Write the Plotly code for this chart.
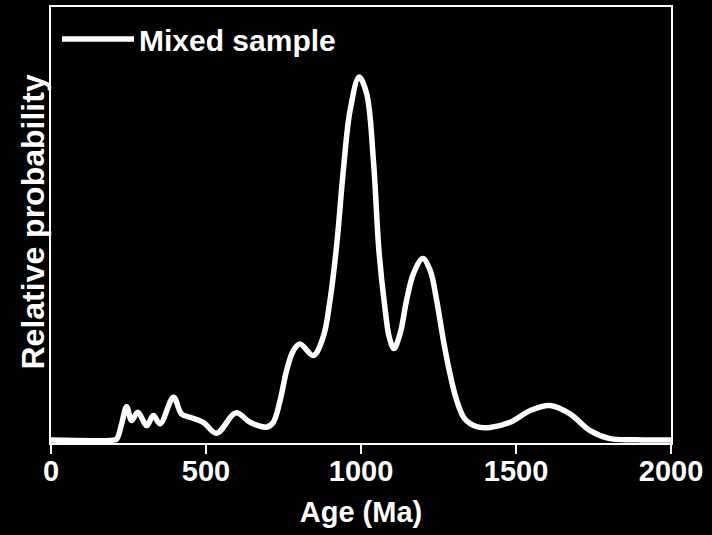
import plotly.graph_objects as go

age_ma = [0, 200, 212, 228, 244, 260, 280, 309, 330, 352, 395, 421, 448, 491, 534, 597, 642,
          696, 717, 739, 760, 782, 803, 846, 878, 900, 922, 943, 965, 994, 1018, 1040, 1058,
          1077, 1091, 1106, 1126, 1147, 1169, 1199, 1223, 1244, 1266, 1287, 1309, 1335, 1373,
          1416, 1481, 1545, 1610, 1674, 1739, 1803, 1889, 2000]
rel_prob = [0, 0, 0.3, 4.5, 9.2, 5.4, 7.7, 4.0, 6.8, 4.5, 11.8, 7.2, 6.3, 4.9, 1.9, 7.5, 4.9,
            3.6, 4.9, 10.9, 19.2, 24.7, 26.5, 23.3, 28.4, 38.5, 54.1, 74.3, 90.9, 100, 95.5, 77.1, 52.0,
            36.6, 28.4, 25.2, 29.3, 38.5, 45.8, 50.0, 46.8, 38.5, 27.4, 18.3, 10.9, 5.8, 3.7,
            3.5, 4.9, 8.1, 9.5, 7.2, 2.6, 0.4, 0.1, 0]
x_ticks = [0, 500, 1000, 1500, 2000]

font_family = "Liberation Sans, Arial, sans-serif"

fig = go.Figure()
fig.add_trace(go.Scatter(
    x=age_ma, y=rel_prob, mode="lines", name="Mixed sample",
    line=dict(color="white", width=5.5, shape="spline", smoothing=1.0),
))

fig.update_layout(
    width=712, height=535,
    paper_bgcolor="black", plot_bgcolor="black",
    margin=dict(l=51, r=41, t=7, b=92),
    font=dict(family=font_family, color="white"),
    showlegend=True,
    legend=dict(
        x=0.0097, y=0.986, xanchor="left", yanchor="top",
        bgcolor="rgba(0,0,0,0)", itemwidth=72,
        font=dict(size=30, family=font_family, color="white", weight="bold"),
    ),
    xaxis=dict(
        range=[0, 2000], tickvals=x_ticks, automargin=False,
        ticks="outside", ticklen=9, tickwidth=2, tickcolor="white",
        ticklabelstandoff=-8,
        showline=True, linecolor="white", linewidth=2, mirror=True,
        showgrid=False, zeroline=False,
        tickfont=dict(size=29, weight="bold", color="white"),
        title=dict(text="Age (Ma)", font=dict(size=29, weight="bold", color="white"), standoff=16),
    ),
    yaxis=dict(
        range=[-0.8, 119.3], showticklabels=False, ticks="", automargin=False,
        showline=True, linecolor="white", linewidth=2, mirror=True,
        showgrid=False, zeroline=False,
    ),
    annotations=[dict(
        text="Relative probability", xref="paper", yref="paper",
        x=0, y=0.5, xanchor="center", yanchor="middle",
        xshift=-18.5, yshift=3, textangle=-90, showarrow=False,
        font=dict(size=32, weight="bold", color="white", family=font_family),
    )],
)

fig.write_html(
    "out.html",
    config={"displayModeBar": False},
    post_script="document.body.style.margin='0';document.body.style.background='black';",
)
